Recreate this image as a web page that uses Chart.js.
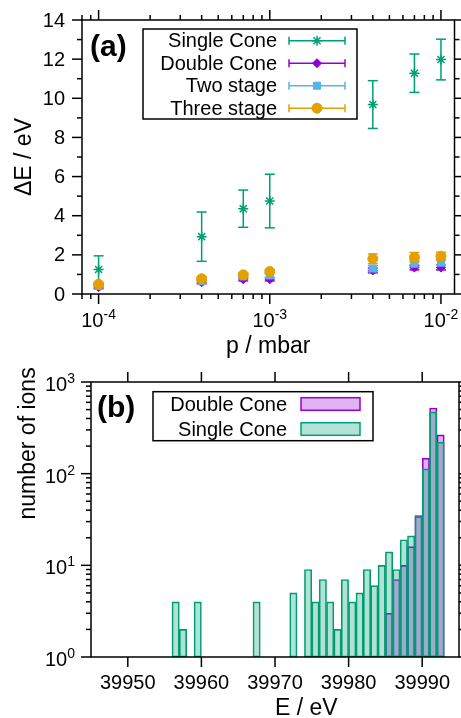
<!DOCTYPE html>
<html>
<head>
<meta charset="utf-8">
<script src="https://cdn.jsdelivr.net/npm/chart.js@4.4.1/dist/chart.umd.min.js"></script>
<style>
  html, body { margin: 0; padding: 0; background: #fff; }
  #wrap { position: relative; width: 461px; height: 718px; overflow: hidden; }
  canvas { position: absolute; left: 0; }
</style>
</head>
<body>
<div id="wrap">
  <canvas id="chartA" width="461" height="360" style="top:0px"></canvas>
  <canvas id="chartB" width="461" height="358" style="top:360px"></canvas>
</div>
<script>
// ---- panel (a): energy spread vs pressure ----
const pressures = [1e-4, 4e-4, 7e-4, 1e-3, 4e-3, 7e-3, 1e-2];
const singleCone = [1.25, 2.93, 4.36, 4.75, 9.68, 11.28, 11.98];
const singleConeErr = [0.7, 1.26, 0.95, 1.37, 1.22, 0.98, 1.04];
const doubleCone = [0.35, 0.6, 0.75, 0.75, 1.2, 1.35, 1.35];
const doubleConeErr = [0.08, 0.08, 0.08, 0.08, 0.12, 0.12, 0.12];
const twoStage = [0.42, 0.65, 0.9, 0.95, 1.3, 1.55, 1.6];
const twoStageErr = [0.08, 0.08, 0.1, 0.1, 0.15, 0.15, 0.15];
const threeStage = [0.5, 0.78, 0.98, 1.15, 1.8, 1.87, 1.93];
const threeStageErr = [0.08, 0.1, 0.1, 0.1, 0.25, 0.25, 0.2];

const xMajorA = [1e-4, 1e-3, 1e-2];
const xExpA = ['-4', '-3', '-2'];
const xMinorA = [8e-5, 9e-5, 2e-4, 3e-4, 4e-4, 5e-4, 6e-4, 7e-4, 8e-4, 9e-4,
                 2e-3, 3e-3, 4e-3, 5e-3, 6e-3, 7e-3, 8e-3, 9e-3];
const yMajorA = [0, 2, 4, 6, 8, 10, 12, 14];
const yMinorA = [1, 3, 5, 7, 9, 11, 13];

// ---- panel (b): histogram of ion energies ----
const singleBins = [39956, 39957, 39959, 39967, 39972, 39974, 39975, 39976, 39977, 39978, 39979,
                    39980, 39981, 39982, 39983, 39984, 39985, 39986, 39987, 39988, 39989,
                    39990, 39991, 39992];
const singleCounts = [4, 2, 4, 4, 5, 9, 4, 7, 4, 2, 7, 4, 5, 9, 6, 10, 14, 9, 19, 21, 34, 113, 472, 221];
const doubleBins = [39985, 39986, 39987, 39988, 39989, 39990, 39991, 39992];
const doubleCounts = [3, 7, 10, 16, 35, 148, 520, 265];

const xMajorB = [39950, 39960, 39970, 39980, 39990];
const yMajorB = [1, 10, 100, 1000];
const yExpB = ['0', '1', '2', '3'];
const yMinorB = [2, 3, 4, 5, 6, 7, 8, 9, 20, 30, 40, 50, 60, 70, 80, 90, 200, 300, 400, 500, 600, 700, 800, 900];

const GREEN = '#009e73';
const PURPLE = '#9400d3';
const BLUE = '#56b4e9';
const ORANGE = '#e69f00';
const FONT = "'Liberation Sans', Arial, sans-serif";

function line(ctx, x1, y1, x2, y2) {
    ctx.beginPath();
    ctx.moveTo(x1, y1);
    ctx.lineTo(x2, y2);
    ctx.stroke();
}

// "10" with a raised exponent
function powLabel(ctx, exp, x, y, align) {
    ctx.font = '20px ' + FONT;
    const wb = ctx.measureText('10').width;
    ctx.font = '14px ' + FONT;
    const we = ctx.measureText(exp).width;
    let x0 = align === 'right' ? x - wb - we : x - (wb + we) / 2;
    ctx.textAlign = 'left';
    ctx.textBaseline = 'alphabetic';
    ctx.font = '20px ' + FONT;
    ctx.fillText('10', x0, y);
    ctx.font = '14px ' + FONT;
    ctx.fillText(exp, x0 + wb, y - 8);
}

function frameTicks(ctx, area, xs, ys, xMaj, xMin, yMaj, yMin) {
    ctx.strokeStyle = '#000';
    ctx.lineWidth = 1.5;
    ctx.strokeRect(area.left, area.top, area.right - area.left, area.bottom - area.top);
    const tick = (vals, len) => {
        vals.forEach(v => {
            const px = xs.getPixelForValue(v);
            line(ctx, px, area.bottom, px, area.bottom + len);
            line(ctx, px, area.top, px, area.top - len);
        });
    };
    const vtick = (vals, len) => {
        vals.forEach(v => {
            const py = ys.getPixelForValue(v);
            line(ctx, area.left - len, py, area.left, py);
            line(ctx, area.right, py, area.right + len, py);
        });
    };
    tick(xMaj, 10);
    tick(xMin, 5);
    vtick(yMaj, 10);
    vtick(yMin, 5);
}

const errorsA = [singleConeErr, doubleConeErr, twoStageErr, threeStageErr];

const plotA = {
    id: 'plotA',
    beforeDatasetsDraw(chart) {
        const ctx = chart.ctx;
        const xs = chart.scales.x, ys = chart.scales.y;
        ctx.save();
        ctx.lineWidth = 1.5;
        chart.data.datasets.forEach((ds, di) => {
            ctx.strokeStyle = ds.borderColor;
            ds.data.forEach((pt, i) => {
                const px = xs.getPixelForValue(pt.x);
                const top = ys.getPixelForValue(pt.y + errorsA[di][i]);
                const bot = ys.getPixelForValue(Math.max(0, pt.y - errorsA[di][i]));
                line(ctx, px, top, px, bot);
                line(ctx, px - 5, top, px + 5, top);
                line(ctx, px - 5, bot, px + 5, bot);
            });
        });
        ctx.restore();
    },
    afterDatasetsDraw(chart) {
        const ctx = chart.ctx;
        const area = chart.chartArea;
        const xs = chart.scales.x, ys = chart.scales.y;
        ctx.save();
        frameTicks(ctx, area, xs, ys, xMajorA, xMinorA, yMajorA, yMinorA);

        ctx.fillStyle = '#000';
        ctx.font = '20px ' + FONT;
        ctx.textAlign = 'right';
        ctx.textBaseline = 'middle';
        yMajorA.forEach(v => ctx.fillText(String(v), 65, ys.getPixelForValue(v) + 1));
        xMajorA.forEach((v, i) => powLabel(ctx, xExpA[i], xs.getPixelForValue(v), 327, 'center'));

        ctx.font = '23px ' + FONT;
        ctx.textAlign = 'center';
        ctx.textBaseline = 'alphabetic';
        ctx.fillText('p / mbar', (area.left + area.right) / 2, 353);
        ctx.save();
        ctx.translate(31, (area.top + area.bottom) / 2);
        ctx.rotate(-Math.PI / 2);
        ctx.fillText('\u0394E / eV', 0, 0);
        ctx.restore();

        ctx.font = 'bold 30px ' + FONT;
        ctx.textAlign = 'left';
        ctx.fillText('(a)', 90, 56);

        // legend with error-bar samples
        ctx.lineWidth = 1.5;
        ctx.strokeStyle = '#000';
        ctx.strokeRect(143, 29, 214, 90);
        ctx.font = '20px ' + FONT;
        ctx.textAlign = 'right';
        ctx.textBaseline = 'middle';
        chart.data.datasets.forEach((ds, i) => {
            const y = 40.7 + i * 22.5;
            ctx.fillStyle = '#000';
            ctx.fillText(ds.label, 277, y + 1);
            ctx.strokeStyle = ds.borderColor;
            ctx.fillStyle = ds.backgroundColor;
            ctx.lineWidth = 1.5;
            line(ctx, 289, y, 345, y);
            line(ctx, 289, y - 4, 289, y + 4);
            line(ctx, 345, y - 4, 345, y + 4);
            ctx.lineWidth = ds.borderWidth;
            Chart.helpers.drawPoint(ctx, {pointStyle: ds.pointStyle, radius: ds.pointRadius, borderWidth: ds.borderWidth, rotation: 0}, 317, y);
        });
        ctx.restore();
    }
};

function series(label, vals, color, style, r, order) {
    return {
        label: label,
        data: pressures.map((p, i) => ({x: p, y: vals[i]})),
        pointStyle: style,
        pointRadius: r,
        pointHoverRadius: r,
        borderColor: color,
        backgroundColor: color,
        borderWidth: style === 'star' ? 1.5 : 1,
        order: order
    };
}

new Chart(document.getElementById('chartA').getContext('2d'), {
    type: 'scatter',
    data: {
        datasets: [
            series('Single Cone', singleCone, GREEN, 'star', 5, 3),
            series('Double Cone', doubleCone, PURPLE, 'rectRot', 4.5, 2),
            series('Two stage', twoStage, BLUE, 'rect', 5, 1),
            series('Three stage', threeStage, ORANGE, 'circle', 5, 0)
        ]
    },
    options: {
        responsive: false,
        animation: false,
        devicePixelRatio: 1,
        layout: {padding: {left: 82, top: 20, right: 2, bottom: 66}},
        plugins: {legend: {display: false}, tooltip: {enabled: false}},
        scales: {
            x: {type: 'logarithmic', min: 8e-5, max: 1.2e-2, display: false},
            y: {type: 'linear', min: 0, max: 14, display: false}
        }
    },
    plugins: [plotA]
});

const plotB = {
    id: 'plotB',
    afterDatasetsDraw(chart) {
        const ctx = chart.ctx;
        const area = chart.chartArea;
        const xs = chart.scales.x, ys = chart.scales.y;
        ctx.save();
        frameTicks(ctx, area, xs, ys, xMajorB, [], yMajorB, yMinorB);

        ctx.fillStyle = '#000';
        ctx.font = '20px ' + FONT;
        ctx.textAlign = 'center';
        ctx.textBaseline = 'alphabetic';
        xMajorB.forEach(v => ctx.fillText(String(v), xs.getPixelForValue(v), 329));
        yMajorB.forEach((v, i) => powLabel(ctx, yExpB[i], 75, ys.getPixelForValue(v) + 9, 'right'));

        ctx.font = '23px ' + FONT;
        ctx.fillText('E / eV', (area.left + area.right) / 2, 355);
        ctx.save();
        ctx.translate(35, (area.top + area.bottom) / 2);
        ctx.rotate(-Math.PI / 2);
        ctx.fillText('number of ions', 0, 0);
        ctx.restore();

        ctx.font = 'bold 30px ' + FONT;
        ctx.textAlign = 'left';
        ctx.fillText('(b)', 97, 57);

        ctx.lineWidth = 1.5;
        ctx.strokeStyle = '#000';
        ctx.strokeRect(153, 31.7, 220, 49);
        ctx.font = '20px ' + FONT;
        ctx.textAlign = 'right';
        ctx.textBaseline = 'middle';
        chart.data.datasets.forEach((ds, i) => {
            const y = 44 + i * 25;
            ctx.fillStyle = '#000';
            ctx.fillText(ds.label, 287, y + 1);
            ctx.fillStyle = '#fff';
            ctx.fillRect(301, y - 6.3, 59, 12.6);
            ctx.fillStyle = ds.backgroundColor;
            ctx.fillRect(301, y - 6.3, 59, 12.6);
            ctx.strokeStyle = ds.borderColor;
            ctx.lineWidth = 1.5;
            ctx.strokeRect(301, y - 6.3, 59, 12.6);
        });
        ctx.restore();
    }
};

new Chart(document.getElementById('chartB').getContext('2d'), {
    type: 'bar',
    data: {
        datasets: [
            {
                label: 'Double Cone',
                data: doubleBins.map((b, i) => ({x: b + 0.5, y: doubleCounts[i]})),
                backgroundColor: 'rgba(148,0,211,0.3)',
                borderColor: PURPLE,
                borderWidth: 1,
                borderSkipped: false,
                grouped: false,
                barPercentage: 1,
                categoryPercentage: 1,
                order: 2
            },
            {
                label: 'Single Cone',
                data: singleBins.map((b, i) => ({x: b + 0.5, y: singleCounts[i]})),
                backgroundColor: 'rgba(0,158,115,0.3)',
                borderColor: GREEN,
                borderWidth: 1,
                borderSkipped: false,
                grouped: false,
                barPercentage: 1,
                categoryPercentage: 1,
                order: 1
            }
        ]
    },
    options: {
        responsive: false,
        animation: false,
        devicePixelRatio: 1,
        layout: {padding: {left: 91, top: 22, right: 2, bottom: 61}},
        plugins: {legend: {display: false}, tooltip: {enabled: false}},
        scales: {
            x: {type: 'linear', min: 39945, max: 39995, offset: false, display: false},
            y: {type: 'logarithmic', min: 1, max: 1000, display: false}
        }
    },
    plugins: [plotB]
});
</script>
</body>
</html>
